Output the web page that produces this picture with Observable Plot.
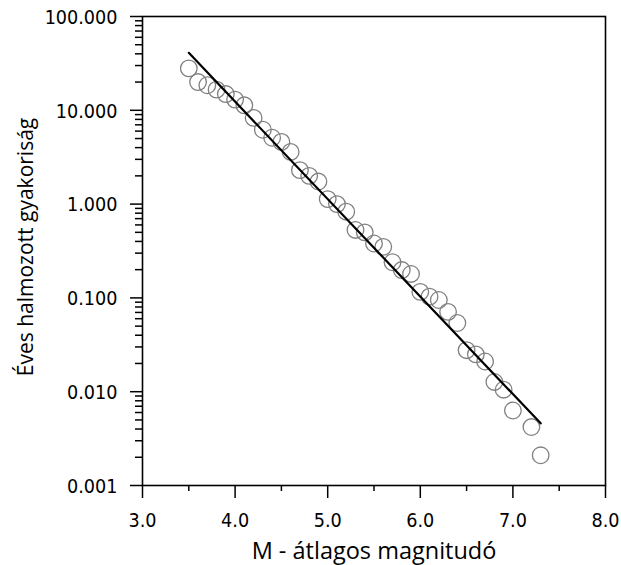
<!DOCTYPE html>
<html>
<head>
<meta charset="utf-8">
<script src="https://cdn.jsdelivr.net/npm/d3@7"></script>
<script src="https://cdn.jsdelivr.net/npm/@observablehq/plot@0.6"></script>
<style>
  html, body { margin: 0; padding: 0; background: #fff; overflow: hidden; }
</style>
</head>
<body>
<div id="chart"></div>
<script>
// Observed annual cumulative frequency vs. mean magnitude
const magnitude = [3.5, 3.6, 3.7, 3.8, 3.9, 4.0, 4.1, 4.2, 4.3, 4.4, 4.5, 4.6, 4.7, 4.8, 4.9,
  5.0, 5.1, 5.2, 5.3, 5.4, 5.5, 5.6, 5.7, 5.8, 5.9, 6.0, 6.1, 6.2, 6.3, 6.4, 6.5, 6.6, 6.7,
  6.8, 6.9, 7.0, 7.2, 7.3];
const frequency = [28, 20, 18.5, 16.6, 14.9, 13, 11.3, 8.3, 6.2, 5.1, 4.6, 3.6, 2.3, 2.0, 1.74,
  1.13, 1.0, 0.83, 0.53, 0.50, 0.38, 0.35, 0.24, 0.198, 0.18, 0.116, 0.103, 0.095, 0.071, 0.054,
  0.0277, 0.025, 0.021, 0.0127, 0.0105, 0.0063, 0.0042, 0.0021];

// Fitted line endpoints
const fitMagnitude = [3.5, 7.3];
const fitFrequency = [41, 0.0046];

// Axis ticks
const xMajorTicks = [3, 4, 5, 6, 7, 8];
const xMinorTicks = [3.5, 4.5, 5.5, 6.5, 7.5];
const yMajorTicks = [0.001, 0.01, 0.1, 1, 10, 100];
const yMinorMultipliers = [2, 3, 4, 5, 6, 7, 8, 9];

const xLabel = "M - átlagos magnitudó";
const yLabel = "Éves halmozott gyakoriság";

const points = magnitude.map((m, i) => ({m, f: frequency[i]}));
const fit = fitMagnitude.map((m, i) => ({m, f: fitFrequency[i]}));
const yMinorTicks = yMajorTicks.slice(0, -1).flatMap(d => yMinorMultipliers.map(k => d * k));

const tickFont = "'DejaVu Sans Condensed', 'DejaVu Sans', sans-serif";
const labelFont = "'Open Sans', sans-serif";

const W = 621, H = 565, mL = 142, mR = 16, mT = 16, mB = 80;
const frameW = W - mL - mR, frameH = H - mT - mB;

const chart = Plot.plot({
  width: W,
  height: H,
  marginLeft: mL,
  marginRight: mR,
  marginTop: mT,
  marginBottom: mB,
  style: {background: "#fff"},
  x: {domain: [3, 8], axis: null},
  y: {type: "log", domain: [0.001, 100], axis: null},
  marks: [
    // y ticks: outward from the left edge of the frame
    Plot.tickY(yMinorTicks, {y: d => d, insetLeft: -7, insetRight: frameW, stroke: "#000", strokeWidth: 1.5}),
    Plot.tickY(yMajorTicks, {y: d => d, insetLeft: -12, insetRight: frameW, stroke: "#000", strokeWidth: 1.5}),
    Plot.text(yMajorTicks, {y: d => d, frameAnchor: "left", text: d3.format(".3f"), textAnchor: "end", dx: -25, dy: 1,
      fontFamily: tickFont, fontSize: 19.6, fill: "#000"}),
    // x ticks: outward below the bottom edge of the frame
    Plot.tickX(xMinorTicks, {x: d => d, insetTop: frameH, insetBottom: -6, stroke: "#000", strokeWidth: 1.5}),
    Plot.tickX(xMajorTicks, {x: d => d, insetTop: frameH, insetBottom: -13, stroke: "#000", strokeWidth: 1.5}),
    Plot.text(xMajorTicks, {x: d => d, frameAnchor: "bottom", text: d3.format(".1f"), lineAnchor: "top", dy: 28,
      fontFamily: tickFont, fontSize: 19.6, fill: "#000"}),
    Plot.frame({stroke: "#000", strokeWidth: 1.6}),
    Plot.dot(points, {x: "m", y: "f", r: 8.3, stroke: "#808080", strokeWidth: 1.3, fill: "none"}),
    Plot.line(fit, {x: "m", y: "f", stroke: "#000", strokeWidth: 2.2}),
    Plot.text([xLabel], {frameAnchor: "bottom", text: d => d, textAnchor: "middle", lineAnchor: "bottom", dy: 73,
      fontFamily: labelFont, fontSize: 23.5, fill: "#000"}),
    Plot.text([yLabel], {frameAnchor: "left", text: d => d, textAnchor: "middle", rotate: -90, lineAnchor: "bottom", dx: -110, dy: -4,
      fontFamily: labelFont, fontSize: 21, fill: "#000"})
  ]
});
document.getElementById("chart").appendChild(chart);
</script>
</body>
</html>
